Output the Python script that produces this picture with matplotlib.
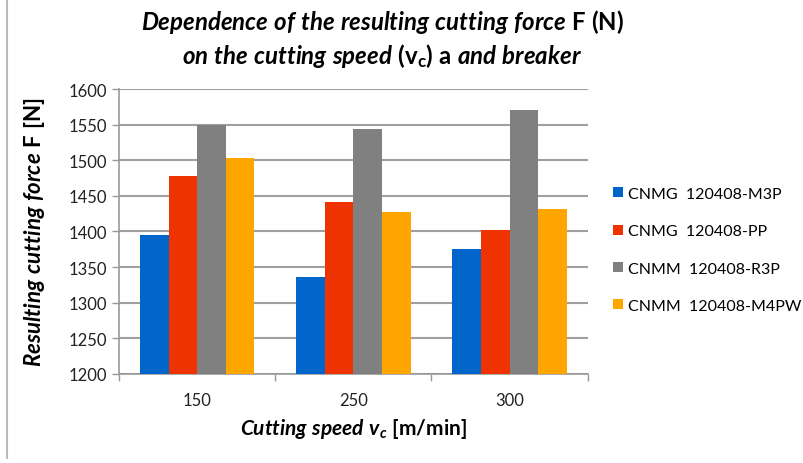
import matplotlib
matplotlib.use("Agg")
import matplotlib.pyplot as plt
import numpy as np
from matplotlib.lines import Line2D

categories = ["150", "250", "300"]
series_names = ["CNMG  120408-M3P", "CNMG  120408-PP", "CNMM  120408-R3P", "CNMM  120408-M4PW"]
m3p = [1395, 1336, 1376]
pp = [1478, 1441, 1402]
r3p = [1550, 1544, 1571]
m4pw = [1503, 1427, 1432]
yticks = [1200, 1250, 1300, 1350, 1400, 1450, 1500, 1550, 1600]

colors = ["#0066CC", "#EE3300", "#808080", "#FFA500"]

plt.rcParams['font.family'] = ['Lato', 'DejaVu Sans']
plt.rcParams['mathtext.fontset'] = 'custom'
plt.rcParams['mathtext.rm'] = 'Lato'
plt.rcParams['mathtext.it'] = 'Lato:italic'
plt.rcParams['mathtext.bf'] = 'Lato:bold'
plt.rcParams['mathtext.bfit'] = 'Lato:bold:italic'

fig = plt.figure(figsize=(8.04, 4.64), dpi=100)
ax = fig.add_axes([0.148, 0.192, 0.583, 0.614])

x = np.arange(len(categories))
w = 0.183
data = [m3p, pp, r3p, m4pw]
for i, (vals, c, name) in enumerate(zip(data, colors, series_names)):
    ax.bar(x + (i - 1.5) * w, np.array(vals) - 1200, bottom=1200, width=w,
           color=c, label=name, zorder=3)

ax.set_xlim(-0.5, 2.5)
ax.set_ylim(1200, 1600)
ax.set_yticks(yticks)
ax.set_xticks(x)
ax.set_xticklabels(categories)
ax.set_xticks([-0.5, 0.5, 1.5, 2.5], minor=True)
ax.tick_params(axis='x', which='major', length=0, pad=13, labelsize=12, colors='#222222')
ax.tick_params(axis='x', which='minor', length=5, color='#999999', width=1)
ax.tick_params(axis='y', length=5, color='#999999', width=1, labelsize=12, colors='#222222')
ax.yaxis.grid(True, color='#a0a0a0', linewidth=1.5, zorder=0)
for s in ['top', 'right']:
    ax.spines[s].set_visible(False)
for s in ['left', 'bottom']:
    ax.spines[s].set_color('#999999')
    ax.spines[s].set_linewidth(1.2)

ax.set_ylabel(r"$\mathbfit{Resulting\ cutting\ force}\ \mathbf{F\ [N]}$", fontsize=16)
ax.yaxis.set_label_coords(-0.153, 0.5)
ax.set_xlabel(r"$\mathbfit{Cutting\ speed\ v_c}\ \mathbf{[m/min]}$", fontsize=15, labelpad=6)

fig.text(0.476, 0.952, r"$\mathbfit{Dependence\ of\ the\ resulting\ cutting\ force}\ \mathbf{F\ (N)}$",
         ha='center', va='center', fontsize=17.3)
fig.text(0.475, 0.879, r"$\mathbfit{on\ the\ cutting\ speed}\ \mathbf{(v_c)\ a}\ \mathbfit{and\ breaker}$",
         ha='center', va='center', fontsize=17.3)

leg = fig.legend(loc='center left', bbox_to_anchor=(0.745, 0.459), frameon=False,
                 fontsize=11.5, handlelength=0.6, handleheight=0.6, handletextpad=0.3,
                 labelspacing=1.46)

fig.add_artist(Line2D([0.009, 0.009], [0.01, 1.0], transform=fig.transFigure,
                      color='#bbbbbb', linewidth=1.5))

fig.savefig("out.png", dpi=100)
